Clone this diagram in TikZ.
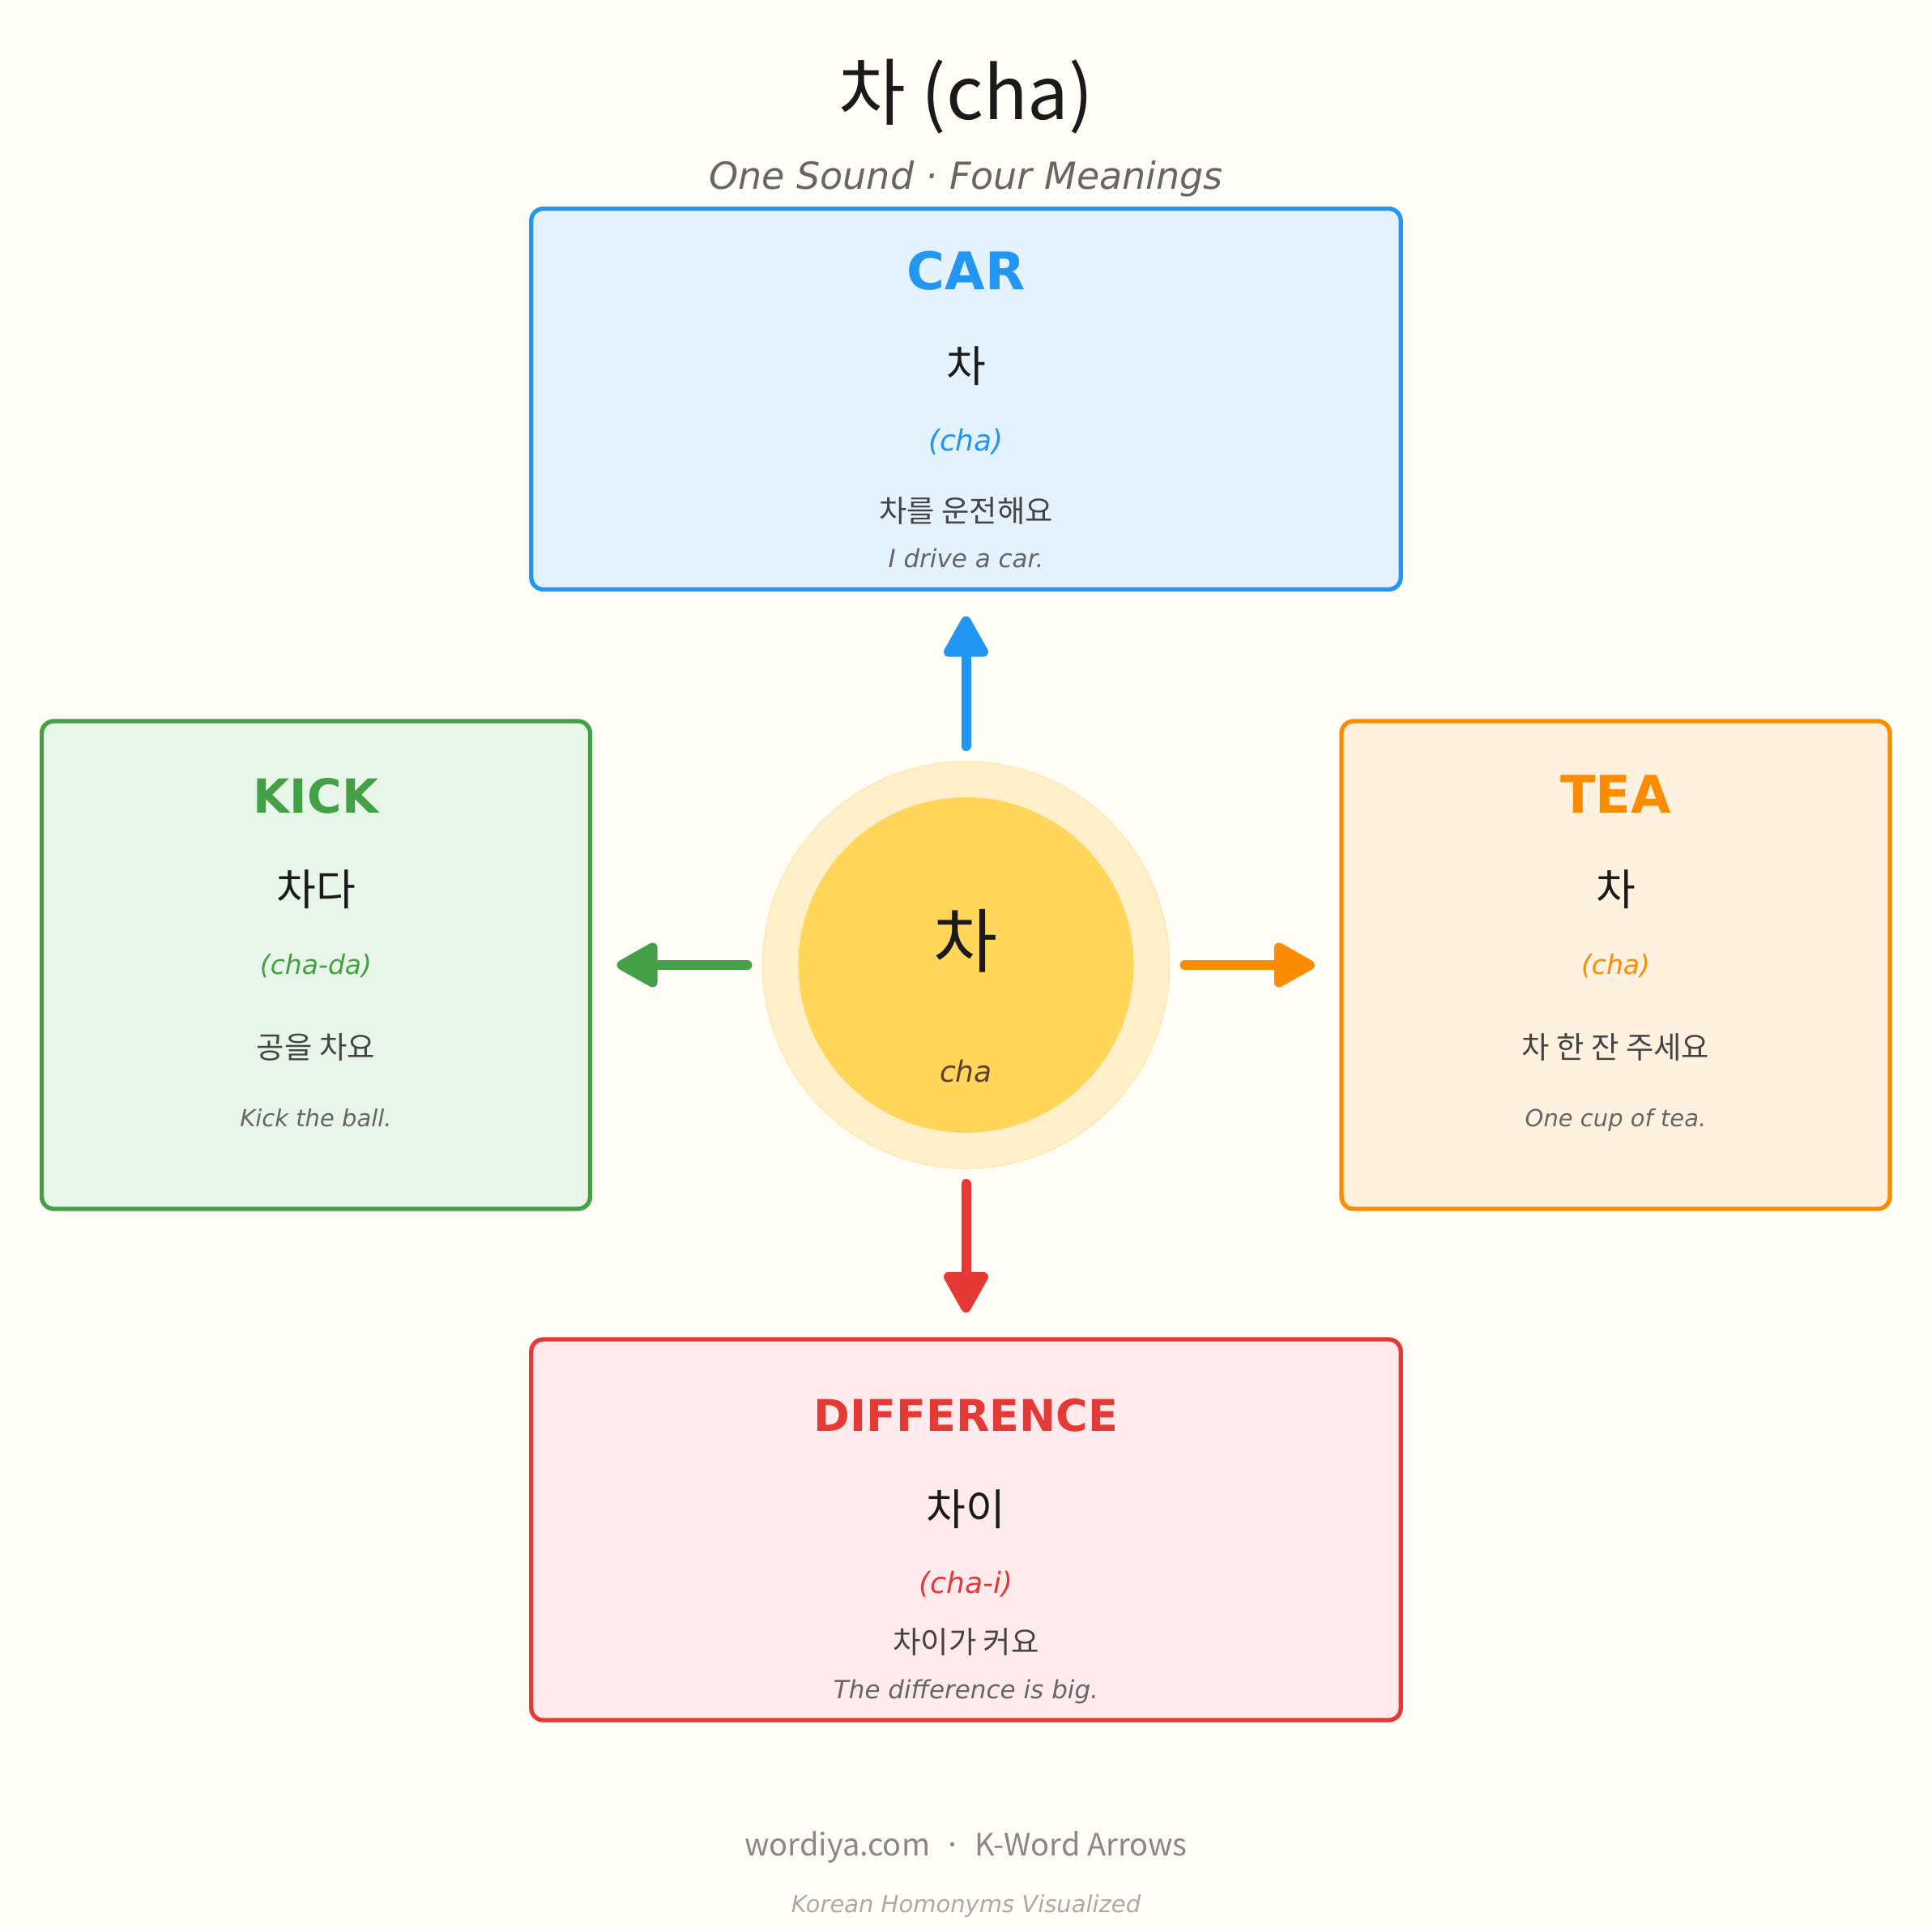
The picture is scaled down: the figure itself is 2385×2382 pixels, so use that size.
\documentclass[tikz,border=0pt]{standalone}
\usepackage{fontspec}
\usetikzlibrary{arrows.meta}
\newfontfamily\kr{Noto Sans CJK KR}
\newfontfamily\dv{DejaVu Sans}[ItalicFont={DejaVu Sans Oblique},BoldFont={DejaVu Sans Bold},BoldItalicFont={DejaVu Sans Bold Oblique}]
\newcommand\fsz[1]{\fontsize{#1}{#1}\selectfont}
\definecolor{bgc}{HTML}{FFFDF6}
\definecolor{carB}{HTML}{2196F3}\definecolor{carF}{HTML}{E3F2FD}
\definecolor{kickB}{HTML}{43A047}\definecolor{kickF}{HTML}{E8F5E9}
\definecolor{teaB}{HTML}{FB8C00}\definecolor{teaF}{HTML}{FFF1E0}
\definecolor{diffB}{HTML}{E53935}\definecolor{diffF}{HTML}{FFEAEE}
\definecolor{haloF}{HTML}{FFF0CB}\definecolor{haloB}{HTML}{FFE9B0}
\definecolor{coreF}{HTML}{FFD65A}
\definecolor{wordc}{HTML}{1A1A1A}\definecolor{sentc}{HTML}{444444}
\definecolor{transc}{HTML}{666666}\definecolor{footc}{HTML}{888888}
\definecolor{foot2c}{HTML}{AAAAAA}\definecolor{chac}{HTML}{5D4037}
\begin{document}
\begin{tikzpicture}[x=1pt,y=-1pt,
  box/.style={draw, rounded corners=15pt, line width=5.3pt, inner sep=0pt, outer sep=0pt},
  txt/.style={anchor=base, inner sep=0pt, outer sep=0pt},
  head/.style={txt, font=\dv\bfseries\fsz{#1}},
  word/.style={txt, text=wordc, font=\kr\fsz{53}},
  pron/.style={txt, font=\dv\itshape\fsz{#1}},
  sent/.style={txt, text=sentc, font=\kr\fsz{37.4}},
  trans/.style={txt, text=transc, font=\dv\itshape\fsz{#1}},
  arr/.style={line width=12pt, line cap=round, -{Triangle[length=57pt,width=60pt,round]}, shorten <=19pt, shorten >=33pt}]
\fill[bgc] (0,0) rectangle (2385,2382);
\useasboundingbox (0,0) rectangle (2385,2382);

% title
\node[txt, text=wordc, font=\kr\fsz{90}] (title) at (1192.5,147) {차 (cha)};
\node[txt, text=transc, font=\dv\itshape\fsz{46}] (subtitle) at (1192.5,233) {One Sound · Four Meanings};

% boxes
\node[box, draw=carB, fill=carF, minimum width=1073.5pt, minimum height=470pt] (car) at (1192.5,492.5) {};
\node[box, draw=kickB, fill=kickF, minimum width=677pt, minimum height=602pt] (kick) at (390,1191) {};
\node[box, draw=teaB, fill=teaF, minimum width=677pt, minimum height=602pt] (tea) at (1994.5,1191) {};
\node[box, draw=diffB, fill=diffF, minimum width=1073.5pt, minimum height=470pt] (diff) at (1192.5,1888) {};

% center
\node[circle, fill=haloF, draw=haloB, line width=1.5pt, minimum size=502pt, inner sep=0pt, outer sep=0pt] (halo) at (1192.5,1191) {};
\node[circle, fill=coreF, minimum size=414pt, inner sep=0pt, outer sep=0pt] (core) at (1192.5,1191) {};
\node[txt, text=wordc, font=\kr\fsz{86}] (cword) at (1192.5,1193) {차};
\node[txt, text=chac, font=\dv\itshape\fsz{36}] (cpron) at (1192.5,1335) {cha};

% arrows
\draw[arr, carB] (halo) -- (car);
\draw[arr, kickB] (halo) -- (kick);
\draw[arr, teaB] (halo) -- (tea);
\draw[arr, diffB] (halo) -- (diff);

% CAR
\node[head=64, text=carB] (carH) at (1192.5,357) {CAR};
\node[word] (carW) at (1192.5,471) {차};
\node[pron=36, text=carB] (carP) at (1192.5,556) {(cha)};
\node[sent] (carS) at (1192.5,644) {차를 운전해요};
\node[trans=31] (carT) at (1192.5,700.5) {I drive a car.};

% KICK
\node[head=58, text=kickB] (kickH) at (390,1003) {KICK};
\node[word] (kickW) at (390,1117) {차다};
\node[pron=33, text=kickB] (kickP) at (390,1202) {(cha-da)};
\node[sent] (kickS) at (390,1306) {공을 차요};
\node[trans=29] (kickT) at (390,1390.5) {Kick the ball.};

% TEA
\node[head=64, text=teaB] (teaH) at (1994.5,1003) {TEA};
\node[word] (teaW) at (1994.5,1117) {차};
\node[pron=33, text=teaB] (teaP) at (1994.5,1202) {(cha)};
\node[sent] (teaS) at (1994.5,1306) {차 한 잔 주세요};
\node[trans=29] (teaT) at (1994.5,1390.5) {One cup of tea.};

% DIFFERENCE
\node[head=54, text=diffB] (diffH) at (1192.5,1766) {DIFFERENCE};
\node[word] (diffW) at (1192.5,1882) {차이};
\node[pron=36, text=diffB] (diffP) at (1192.5,1966) {(cha-i)};
\node[sent] (diffS) at (1192.5,2040.5) {차이가 커요};
\node[trans=31] (diffT) at (1192.5,2096.5) {The difference is big.};

% footer
\node[txt, text=footc, font=\kr\fsz{38}] (foot) at (1192.5,2290) {wordiya.com\hspace*{17pt}·\hspace*{17pt}K-Word Arrows};
\node[txt, text=foot2c, font=\dv\itshape\fsz{29}] (foot2) at (1192.5,2360) {Korean Homonyms Visualized};
\end{tikzpicture}
\end{document}
